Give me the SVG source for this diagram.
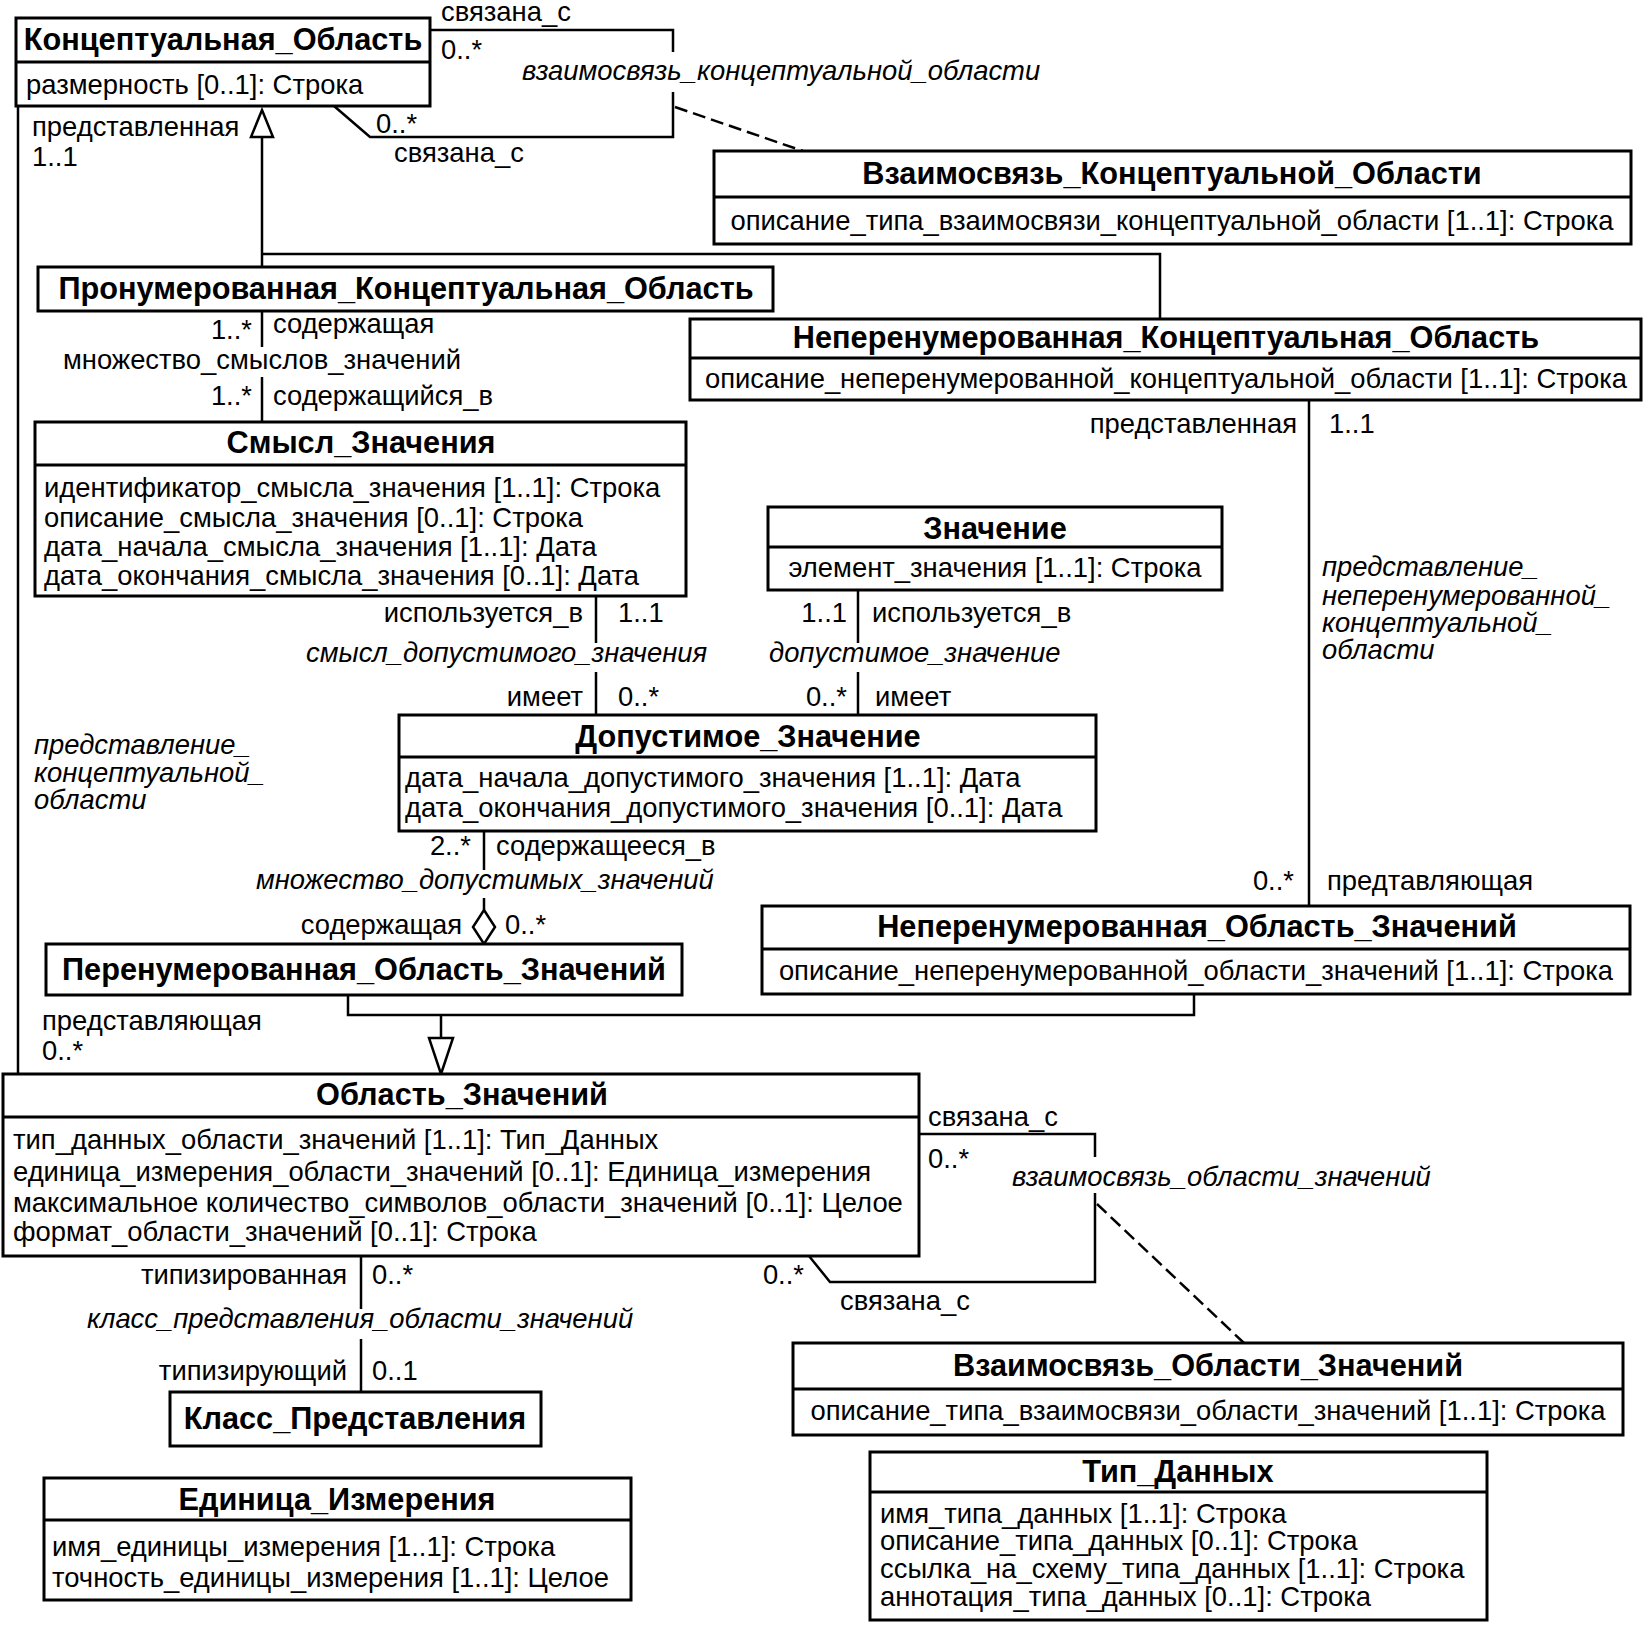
<svg xmlns="http://www.w3.org/2000/svg" width="1647" height="1626" viewBox="0 0 1647 1626">
<style>
text{font-family:"Liberation Sans",Arial,sans-serif;fill:#000}
.box{fill:#fff;stroke:#000;stroke-width:3}
.dv{stroke:#000;stroke-width:3}
.t{font-size:30.7px;font-weight:bold;text-anchor:middle}
.a{font-size:27.4px}
.ac{font-size:27.4px;text-anchor:middle}
.l{font-size:27.4px}
.r{font-size:27.4px;text-anchor:end}
.m{font-size:27.4px;text-anchor:middle}
.i{font-size:27.4px;font-style:italic}
.c{fill:none;stroke:#000;stroke-width:2.5}
.d{fill:none;stroke:#000;stroke-width:2.5;stroke-dasharray:13 6}
.g{fill:#fff;stroke:#000;stroke-width:2.5}
</style>
<rect width="1647" height="1626" fill="#fff"/>
<g id="connectors">
  <!-- self association conceptual domain -->
  <polyline class="c" points="430,30 673,30 673,52"/>
  <polyline class="c" points="673,92 673,137 370,137 334,106"/>
  <line class="d" x1="675" y1="107" x2="803" y2="151"/>
  <!-- generalization to conceptual domain -->
  <line class="c" x1="262" y1="137" x2="262" y2="267"/>
  <polyline class="c" points="262,254 1160,254 1160,319"/>
  <polygon class="g" points="262,110 273,137 251,137"/>
  <!-- enumerated CD - value meaning -->
  <line class="c" x1="262" y1="311" x2="262" y2="347"/>
  <line class="c" x1="262" y1="377" x2="262" y2="422"/>
  <!-- left long -->
  <line class="c" x1="18" y1="106" x2="18" y2="1074"/>
  <!-- value meaning - permissible value -->
  <line class="c" x1="596" y1="596" x2="596" y2="643"/>
  <line class="c" x1="596" y1="672" x2="596" y2="715"/>
  <!-- value - permissible value -->
  <line class="c" x1="858" y1="590" x2="858" y2="643"/>
  <line class="c" x1="858" y1="672" x2="858" y2="715"/>
  <!-- aggregation -->
  <line class="c" x1="484" y1="831" x2="484" y2="870"/>
  <line class="c" x1="484" y1="898" x2="484" y2="910"/>
  <polygon class="g" points="484,910 495,927 484,944 473,927"/>
  <!-- generalization to value domain -->
  <polyline class="c" points="348,995 348,1015 1194,1015 1194,994"/>
  <line class="c" x1="441" y1="1015" x2="441" y2="1038"/>
  <polygon class="g" points="441,1074 453,1038 429,1038"/>
  <!-- right vertical -->
  <line class="c" x1="1309" y1="400" x2="1309" y2="906"/>
  <!-- self association value domain -->
  <polyline class="c" points="919,1134 1095,1134 1095,1157"/>
  <polyline class="c" points="1095,1193 1095,1282 830,1282 809,1256"/>
  <line class="d" x1="1097" y1="1204" x2="1244" y2="1343"/>
  <!-- value domain - representation class -->
  <line class="c" x1="361" y1="1256" x2="361" y2="1309"/>
  <line class="c" x1="361" y1="1339" x2="361" y2="1392"/>
  <!-- labels -->
  <text class="l" x="441" y="21">связана_с</text>
  <text class="l" x="441" y="59">0..*</text>
  <text class="i" x="522" y="80">взаимосвязь_концептуальной_области</text>
  <text class="l" x="376" y="133">0..*</text>
  <text class="l" x="394" y="162">связана_с</text>
  <text class="l" x="32" y="136">представленная</text>
  <text class="l" x="32" y="166">1..1</text>
  <text class="r" x="252" y="339">1..*</text>
  <text class="l" x="273" y="333">содержащая</text>
  <text class="m" x="262" y="369">множество_смыслов_значений</text>
  <text class="r" x="252" y="405">1..*</text>
  <text class="l" x="273" y="405">содержащийся_в</text>
  <text class="r" x="1297" y="433">представленная</text>
  <text class="l" x="1329" y="433">1..1</text>
  <text class="i" x="1322" y="576">представление_<tspan x="1322" y="605">неперенумерованной_</tspan><tspan x="1322" y="632">концептуальной_</tspan><tspan x="1322" y="659">области</tspan></text>
  <text class="r" x="583" y="622">используется_в</text>
  <text class="l" x="618" y="622">1..1</text>
  <text class="i" x="306" y="662">смысл_допустимого_значения</text>
  <text class="r" x="583" y="706">имеет</text>
  <text class="l" x="618" y="706">0..*</text>
  <text class="r" x="847" y="622">1..1</text>
  <text class="l" x="872" y="622">используется_в</text>
  <text class="i" x="769" y="662">допустимое_значение</text>
  <text class="r" x="847" y="706">0..*</text>
  <text class="l" x="875" y="706">имеет</text>
  <text class="i" x="34" y="754">представление_<tspan x="34" y="782">концептуальной_</tspan><tspan x="34" y="809">области</tspan></text>
  <text class="r" x="471" y="855">2..*</text>
  <text class="l" x="496" y="855">содержащееся_в</text>
  <text class="i" x="256" y="889">множество_допустимых_значений</text>
  <text class="r" x="462" y="934">содержащая</text>
  <text class="l" x="505" y="934">0..*</text>
  <text class="r" x="1294" y="890">0..*</text>
  <text class="l" x="1327" y="890">предтавляющая</text>
  <text class="l" x="42" y="1030">представляющая</text>
  <text class="l" x="42" y="1060">0..*</text>
  <text class="l" x="928" y="1126">связана_с</text>
  <text class="l" x="928" y="1168">0..*</text>
  <text class="i" x="1012" y="1186">взаимосвязь_области_значений</text>
  <text class="r" x="804" y="1284">0..*</text>
  <text class="l" x="840" y="1310">связана_с</text>
  <text class="r" x="347" y="1284">типизированная</text>
  <text class="l" x="372" y="1284">0..*</text>
  <text class="i" x="87" y="1328">класс_представления_области_значений</text>
  <text class="r" x="347" y="1380">типизирующий</text>
  <text class="l" x="372" y="1380">0..1</text>
</g>
<g id="n-conceptual-domain">
  <rect class="box" x="16" y="18" width="414" height="88"/>
  <line class="dv" x1="16" y1="62" x2="430" y2="62"/>
  <text class="t" x="223" y="50">Концептуальная_Область</text>
  <text class="a" x="26" y="94">размерность [0..1]: Строка</text>
</g>
<g id="n-cd-relationship">
  <rect class="box" x="714" y="151" width="917" height="93"/>
  <line class="dv" x1="714" y1="197" x2="1631" y2="197"/>
  <text class="t" x="1172" y="184">Взаимосвязь_Концептуальной_Области</text>
  <text class="ac" x="1172" y="230">описание_типа_взаимосвязи_концептуальной_области [1..1]: Строка</text>
</g>
<g id="n-enumerated-cd">
  <rect class="box" x="38" y="267" width="735" height="44"/>
  <text class="t" x="406" y="299">Пронумерованная_Концептуальная_Область</text>
</g>
<g id="n-nonenumerated-cd">
  <rect class="box" x="690" y="319" width="951" height="81"/>
  <line class="dv" x1="690" y1="358" x2="1641" y2="358"/>
  <text class="t" x="1166" y="348">Неперенумерованная_Концептуальная_Область</text>
  <text class="ac" x="1166" y="388">описание_неперенумерованной_концептуальной_области [1..1]: Строка</text>
</g>
<g id="n-value-meaning">
  <rect class="box" x="35" y="422" width="651" height="174"/>
  <line class="dv" x1="35" y1="465" x2="686" y2="465"/>
  <text class="t" x="361" y="453">Смысл_Значения</text>
  <text class="a" x="44" y="497">идентификатор_смысла_значения [1..1]: Строка<tspan x="44" y="527">описание_смысла_значения [0..1]: Строка</tspan><tspan x="44" y="556">дата_начала_смысла_значения [1..1]: Дата</tspan><tspan x="44" y="585">дата_окончания_смысла_значения [0..1]: Дата</tspan></text>
</g>
<g id="n-value">
  <rect class="box" x="768" y="507" width="454" height="83"/>
  <line class="dv" x1="768" y1="547" x2="1222" y2="547"/>
  <text class="t" x="995" y="539">Значение</text>
  <text class="ac" x="995" y="577">элемент_значения [1..1]: Строка</text>
</g>
<g id="n-permissible-value">
  <rect class="box" x="399" y="715" width="697" height="116"/>
  <line class="dv" x1="399" y1="757" x2="1096" y2="757"/>
  <text class="t" x="748" y="747">Допустимое_Значение</text>
  <text class="a" x="405" y="787">дата_начала_допустимого_значения [1..1]: Дата<tspan x="405" y="817">дата_окончания_допустимого_значения [0..1]: Дата</tspan></text>
</g>
<g id="n-enumerated-vd">
  <rect class="box" x="46" y="944" width="636" height="51"/>
  <text class="t" x="364" y="980">Перенумерованная_Область_Значений</text>
</g>
<g id="n-nonenumerated-vd">
  <rect class="box" x="762" y="906" width="868" height="88"/>
  <line class="dv" x1="762" y1="949" x2="1630" y2="949"/>
  <text class="t" x="1197" y="937">Неперенумерованная_Область_Значений</text>
  <text class="ac" x="1196" y="980">описание_неперенумерованной_области_значений [1..1]: Строка</text>
</g>
<g id="n-value-domain">
  <rect class="box" x="3" y="1074" width="916" height="182"/>
  <line class="dv" x1="3" y1="1117" x2="919" y2="1117"/>
  <text class="t" x="462" y="1105">Область_Значений</text>
  <text class="a" x="13" y="1149">тип_данных_области_значений [1..1]: Тип_Данных<tspan x="13" y="1181">единица_измерения_области_значений [0..1]: Единица_измерения</tspan><tspan x="13" y="1212">максимальное количество_символов_области_значений [0..1]: Целое</tspan><tspan x="13" y="1241">формат_области_значений [0..1]: Строка</tspan></text>
</g>
<g id="n-representation-class">
  <rect class="box" x="170" y="1392" width="371" height="54"/>
  <text class="t" x="355" y="1429">Класс_Представления</text>
</g>
<g id="n-unit-of-measure">
  <rect class="box" x="44" y="1478" width="587" height="122"/>
  <line class="dv" x1="44" y1="1520" x2="631" y2="1520"/>
  <text class="t" x="337" y="1510">Единица_Измерения</text>
  <text class="a" x="52" y="1556">имя_единицы_измерения [1..1]: Строка<tspan x="52" y="1587">точность_единицы_измерения [1..1]: Целое</tspan></text>
</g>
<g id="n-vd-relationship">
  <rect class="box" x="793" y="1343" width="830" height="92"/>
  <line class="dv" x1="793" y1="1389" x2="1623" y2="1389"/>
  <text class="t" x="1208" y="1376">Взаимосвязь_Области_Значений</text>
  <text class="ac" x="1208" y="1420">описание_типа_взаимосвязи_области_значений [1..1]: Строка</text>
</g>
<g id="n-datatype">
  <rect class="box" x="870" y="1452" width="617" height="168"/>
  <line class="dv" x1="870" y1="1492" x2="1487" y2="1492"/>
  <text class="t" x="1178" y="1482">Тип_Данных</text>
  <text class="a" x="880" y="1523">имя_типа_данных [1..1]: Строка<tspan x="880" y="1550">описание_типа_данных [0..1]: Строка</tspan><tspan x="880" y="1578">ссылка_на_схему_типа_данных [1..1]: Строка</tspan><tspan x="880" y="1606">аннотация_типа_данных [0..1]: Строка</tspan></text>
</g>
</svg>
